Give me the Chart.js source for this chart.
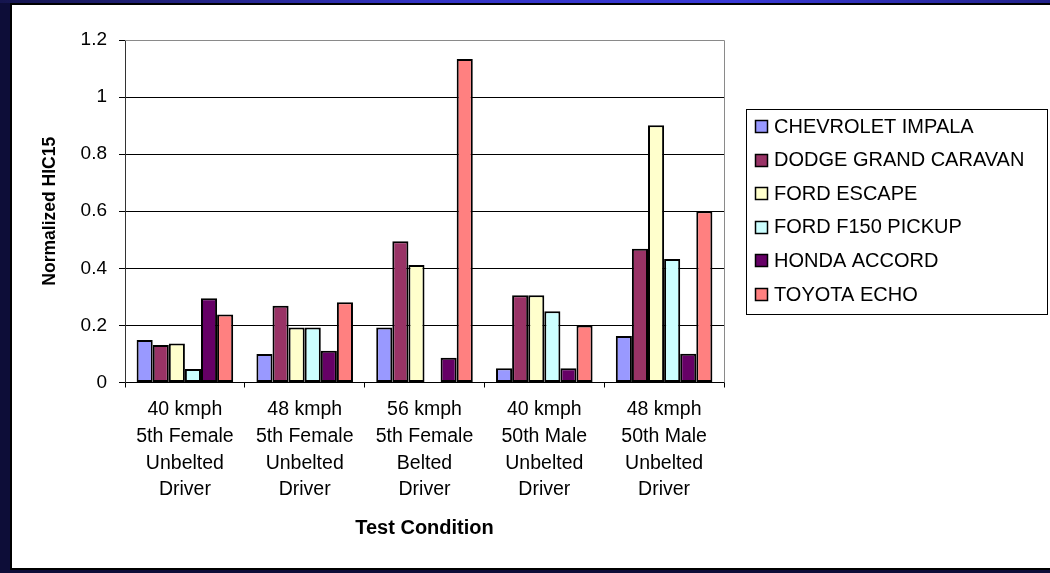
<!DOCTYPE html>
<html>
<head>
<meta charset="utf-8">
<title>Normalized HIC15 by Test Condition</title>
<script src="https://cdn.jsdelivr.net/npm/chart.js@4.4.1/dist/chart.umd.min.js"></script>
<style>
  html, body { margin: 0; padding: 0; }
  body {
    width: 1050px; height: 573px; overflow: hidden; position: relative;
    background: #0d0d38;
  }
  #topbar {
    position: absolute; left: 0; top: 0; width: 1050px; height: 3px;
    background: linear-gradient(to right, #15154e 0%, #3434c4 40%, #3a3ad6 70%, #22228a 100%);
  }
  #frame {
    position: absolute; left: 10px; top: 3px; width: 1040px; height: 563px;
    border-left: 2px solid #000; border-top: 2px solid #000; border-bottom: 2px solid #000;
    background: #fff;
  }
  #wrap { position: absolute; left: 0; top: 0; width: 1038px; height: 563px; }
</style>
</head>
<body>
<div id="topbar"></div>
<div id="frame">
  <div id="wrap"><canvas id="hicChart"></canvas></div>
</div>
<script>
const categories = [
    ['40 kmph', '5th Female', 'Unbelted', 'Driver'],
    ['48 kmph', '5th Female', 'Unbelted', 'Driver'],
    ['56 kmph', '5th Female', 'Belted', 'Driver'],
    ['40 kmph', '50th Male', 'Unbelted', 'Driver'],
    ['48 kmph', '50th Male', 'Unbelted', 'Driver']
];
const vehicleNames = ['CHEVROLET IMPALA', 'DODGE GRAND CARAVAN', 'FORD ESCAPE', 'FORD F150 PICKUP', 'HONDA ACCORD', 'TOYOTA ECHO'];
const chevroletImpala = [0.149, 0.100, 0.193, 0.050, 0.163];
const dodgeCaravan    = [0.131, 0.269, 0.495, 0.306, 0.469];
const fordEscape      = [0.137, 0.193, 0.412, 0.306, 0.901];
const fordF150        = [0.047, 0.193, null,  0.250, 0.433];
const hondaAccord     = [0.295, 0.111, 0.087, 0.050, 0.101];
const toyotaEcho      = [0.238, 0.281, 1.133, 0.200, 0.600];
const yTicks = [0, 0.2, 0.4, 0.6, 0.8, 1, 1.2];

const FONT = '"Liberation Sans", Arial, sans-serif';
const colors = ['#9999ff', '#993366', '#ffffcc', '#ccffff', '#660066', '#ff8080'];
const series = [chevroletImpala, dodgeCaravan, fordEscape, fordF150, hondaAccord, toyotaEcho];

// grey border on top/right of the plot, like the original
const plotFrame = {
    id: 'plotFrame',
    beforeDatasetsDraw(chart) {
        const {ctx, chartArea: a} = chart;
        ctx.save();
        ctx.strokeStyle = '#8a8a8a';
        ctx.lineWidth = 1;
        ctx.beginPath();
        ctx.moveTo(a.left, Math.round(a.top) + 0.5);
        ctx.lineTo(Math.round(a.right) + 0.5, Math.round(a.top) + 0.5);
        ctx.lineTo(Math.round(a.right) + 0.5, a.bottom);
        ctx.stroke();
        ctx.restore();
    }
};

// boxed legend on the right
const boxLegend = {
    id: 'boxLegend',
    afterDraw(chart) {
        const ctx = chart.ctx;
        const box = {left: 734, top: 104, right: 1035, bottom: 309};
        ctx.save();
        ctx.strokeStyle = '#000';
        ctx.lineWidth = 1;
        ctx.strokeRect(box.left + 0.5, box.top + 0.5, box.right - box.left, box.bottom - box.top);
        ctx.font = '20px ' + FONT;
        ctx.textBaseline = 'middle';
        chart.data.datasets.forEach((ds, i) => {
            const cy = 121 + i * 33.6;
            ctx.fillStyle = ds.backgroundColor;
            ctx.fillRect(743, Math.round(cy - 6), 13, 13);
            ctx.strokeStyle = '#000';
            ctx.lineWidth = 1.5;
            ctx.strokeRect(743.5, Math.round(cy - 6) + 0.5, 12, 12);
            ctx.fillStyle = '#000';
            ctx.fillText(ds.label, 762, cy + 1);
        });
        ctx.restore();
    }
};

document.addEventListener('DOMContentLoaded', function() {
    const canvas = document.getElementById('hicChart');

    new Chart(canvas.getContext('2d'), {
        type: 'bar',
        data: {
            labels: categories,
            datasets: series.map((values, i) => ({
                label: vehicleNames[i],
                data: values,
                backgroundColor: colors[i],
                borderColor: '#000',
                borderWidth: 2,
                borderSkipped: false
            }))
        },
        options: {
            responsive: true,
            maintainAspectRatio: false,
            animation: false,
            layout: {
                padding: {top: 35, right: 326, bottom: 27.5, left: 0}
            },
            datasets: {
                bar: {categoryPercentage: 0.806, barPercentage: 1.0}
            },
            plugins: {
                legend: {display: false},
                tooltip: {enabled: false}
            },
            scales: {
                x: {
                    grid: {
                        drawOnChartArea: false,
                        drawTicks: true,
                        tickLength: 5,
                        color: '#000',
                        offset: true
                    },
                    border: {color: '#000', width: 1},
                    ticks: {
                        color: '#000',
                        padding: 9,
                        maxRotation: 0,
                        autoSkip: false,
                        font: {family: FONT, size: 19.5, lineHeight: 1.37}
                    },
                    title: {
                        display: true,
                        text: 'Test Condition',
                        color: '#000',
                        padding: {top: 0, bottom: 0},
                        font: {family: FONT, size: 20, weight: 'bold'}
                    },
                    afterFit(scale) { scale.height = 158; }
                },
                y: {
                    min: 0,
                    max: 1.2,
                    afterBuildTicks(scale) {
                        scale.ticks = yTicks.map(v => ({value: v}));
                    },
                    grid: {
                        color: ctx => (ctx.tick && ctx.tick.value === 1.2 ? '#8a8a8a' : '#000'),
                        tickColor: '#000',
                        tickLength: 6,
                        lineWidth: 1
                    },
                    border: {color: '#333', width: 1},
                    ticks: {
                        color: '#000',
                        padding: 12,
                        font: {family: FONT, size: 19},
                        callback: value => String(Math.round(value * 10) / 10)
                    },
                    title: {
                        display: true,
                        text: 'Normalized HIC15',
                        color: '#000',
                        padding: {top: 28, bottom: 0},
                        font: {family: FONT, size: 17.5, weight: 'bold'}
                    },
                    afterFit(scale) { scale.width = 113; }
                }
            }
        },
        plugins: [plotFrame, boxLegend]
    });
});
</script>
</body>
</html>
